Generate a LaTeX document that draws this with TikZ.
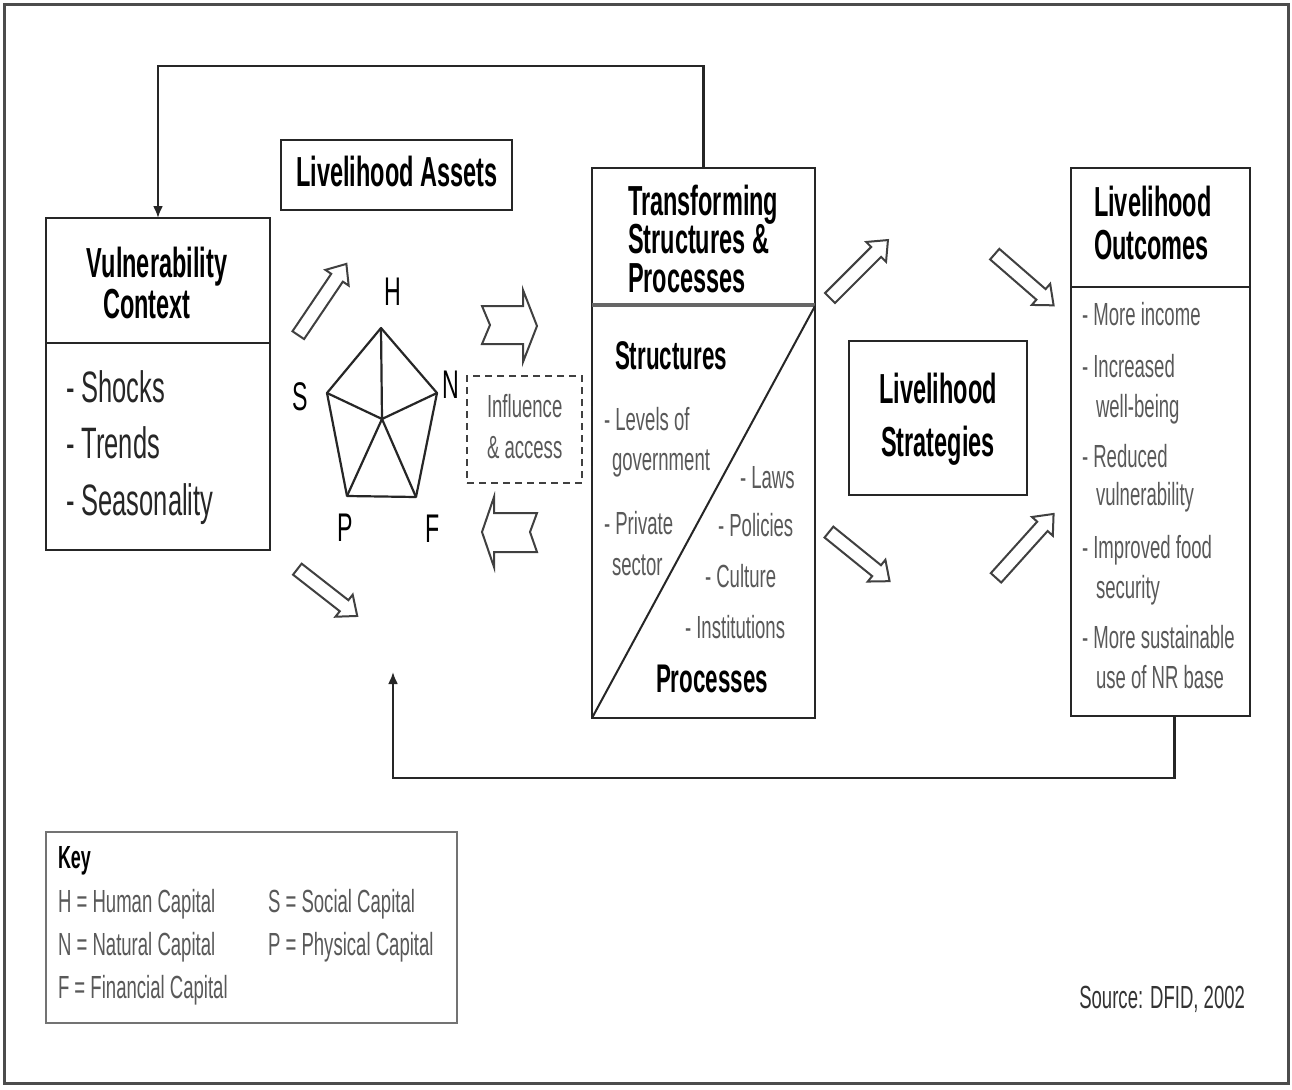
\documentclass[tikz,border=0pt]{standalone}
\usepackage{fontspec}
\setmainfont{Liberation Sans}[FakeStretch=0.58]
\newfontfamily\tfont{Liberation Sans}[FakeStretch=0.56]
\usetikzlibrary{shapes.arrows,calc,arrows.meta}
\tikzset{
  every node/.style={inner sep=0pt, outer sep=0pt},
  box/.style={draw=black!85, line width=2.6pt, fill=white, inner sep=0pt},
  title/.style={font=\tfont\bfseries\fontsize{42}{44}\selectfont, text=black},
  subtitle/.style={font=\tfont\bfseries\fontsize{40}{42}\selectfont, text=black},
  big/.style={font=\fontsize{44}{48}\selectfont, text=black!85},
  small/.style={font=\fontsize{32}{36}\selectfont, text=black!65},
  letter/.style={font=\fontsize{40}{42}\selectfont, text=black},
  conn/.style={draw=black!85, line width=2.2pt},
  pent/.style={draw=black!85, line width=2.2pt, line join=round},
  darrow/.style={single arrow, draw=black!75, line width=2pt, fill=white,
    inner xsep=0pt, inner ysep=6pt, single arrow head extend=7pt, single arrow tip angle=80},
  harrow/.style={draw=black!75, line width=2pt, fill=white, line join=miter}
}
\begin{document}
\begin{tikzpicture}[x=1pt,y=-1pt]
\useasboundingbox (0,0) rectangle (1292,1089);
\fill[white] (0,0) rectangle (1292,1089);
\draw[black!70, line width=3pt] (4,5) rectangle (1288,1083);

% boxes
\node[box, minimum width=224pt, minimum height=332pt] (vuln) at (158,384) {};
\node[box, minimum width=231pt, minimum height=70pt] (assets) at (396.5,175) {};
\node[box, minimum width=223pt, minimum height=550pt] (trans) at (703.5,443) {};
\node[box, minimum width=178pt, minimum height=154pt] (strat) at (938,418) {};
\node[box, minimum width=179pt, minimum height=548pt] (outc) at (1160.5,442) {};
\node[draw=black!75, dashed, dash pattern=on 7pt off 5pt, line width=2.4pt, minimum width=115pt, minimum height=107pt] (infl) at (524.5,429.5) {};
\node[draw=black!55, line width=2.6pt, minimum width=411pt, minimum height=191pt] (key) at (251.5,927.5) {};

% dividers
\draw[black!85, line width=2.6pt] (vuln.west |- 0,343) -- (vuln.east |- 0,343);
\draw[black!60, line width=3.5pt] (trans.west |- 0,305) -- (trans.east |- 0,305);
\draw[black!85, line width=2.6pt] (outc.west |- 0,287) -- (outc.east |- 0,287);
\draw[black!85, line width=2pt] (trans.east |- 0,306) -- (trans.south west);

% feedback connectors
\draw[conn, -{Latex[length=12pt,width=10pt]}] (trans.north) -- (trans.north |- 0,66) -| (vuln.north);
\coordinate (assetsin) at (393,672);
\draw[conn, -{Latex[length=12pt,width=10pt]}] ($(outc.south)+(14,0)$) -- ++(0,62) -| (assetsin);

% pentagon
\coordinate (pH) at (381,328);
\coordinate (pS) at (327,393);
\coordinate (pN) at (437,393);
\coordinate (pP) at (347,496);
\coordinate (pF) at (416,497);
\coordinate (pC) at (382,419);
\draw[pent] (pH) -- (pN) -- (pF) -- (pP) -- (pS) -- cycle;
\draw[pent] (pH) -- (pC) (pS) -- (pC) (pN) -- (pC) (pC) -- (pP) (pC) -- (pF);
\node[letter, anchor=base] (lH) at (393,305) {H};
\node[letter, anchor=base] (lS) at (300,410) {S};
\node[letter, anchor=base] (lN) at (451,398) {N};
\node[letter, anchor=base] (lP) at (345,541) {P};
\node[letter, anchor=base] (lF) at (433,542) {F};

% horizontal block arrows
\draw[harrow] (482,306) -- (523,306) -- (523,290) -- (537,326) -- (523,362) -- (523,344) -- (482,344) -- (490,325) -- cycle;
\draw[harrow] (537,513) -- (494,513) -- (494,497) -- (482,532) -- (494,567) -- (494,552) -- (537,552) -- (530,532) -- cycle;

% diagonal block arrows
\node[darrow, minimum height=86pt, rotate=56] (a1) at (320,303) {};
\node[darrow, minimum height=76pt, rotate=-38] (a2) at (324,590) {};
\node[darrow, minimum height=82pt, rotate=45] (a3) at (856,272) {};
\node[darrow, minimum height=78pt, rotate=-39] (a4) at (856,554) {};
\node[darrow, minimum height=78pt, rotate=-41] (a5) at (1021,277) {};
\node[darrow, minimum height=86pt, rotate=48] (a6) at (1022,549) {};

% vulnerability text
\node[title, anchor=base] (vt1) at (157,277) {Vulnerability};
\node[title, anchor=base] (vt2) at (147,318) {Context};
\node[big, anchor=base west] (vi1) at (66,402) {- Shocks};
\node[big, anchor=base west] (vi2) at (66,458) {- Trends};
\node[big, anchor=base west] (vi3) at (66,515) {- Seasonality};

% assets
\node[title, anchor=base] (at) at (397,186) {Livelihood Assets};
\node[small, anchor=base west] (if1) at (487,417) {Influence};
\node[small, anchor=base west] (if2) at (487,458) {\& access};

% transforming
\node[title, anchor=base west] (tt1) at (628,215) {Transforming};
\node[title, anchor=base west] (tt2) at (628,253) {Structures \&};
\node[title, anchor=base west] (tt3) at (628,292) {Processes};
\node[subtitle, anchor=base west] (ts) at (615,369) {Structures};
\node[subtitle, anchor=base west] (tp) at (656,692) {Processes};
\node[small, anchor=base west] (s1) at (604,430) {- Levels of};
\node[small, anchor=base west] (s2) at (612,470) {government};
\node[small, anchor=base west] (s3) at (604,534) {- Private};
\node[small, anchor=base west] (s4) at (612,575) {sector};
\node[small, anchor=base west] (p1) at (740,488) {- Laws};
\node[small, anchor=base west] (p2) at (718,536) {- Policies};
\node[small, anchor=base west] (p3) at (705,587) {- Culture};
\node[small, anchor=base west] (p4) at (685,638) {- Institutions};

% strategies
\node[title, anchor=base] (st1) at (938,403) {Livelihood};
\node[title, anchor=base] (st2) at (938,456) {Strategies};

% outcomes
\node[title, anchor=base west] (ot1) at (1094,216) {Livelihood};
\node[title, anchor=base west] (ot2) at (1094,259) {Outcomes};
\node[small, anchor=base west] (o1) at (1082,325) {- More income};
\node[small, anchor=base west] (o2) at (1082,377) {- Increased};
\node[small, anchor=base west] (o3) at (1096,417) {well-being};
\node[small, anchor=base west] (o4) at (1082,467) {- Reduced};
\node[small, anchor=base west] (o5) at (1096,505) {vulnerability};
\node[small, anchor=base west] (o6) at (1082,558) {- Improved food};
\node[small, anchor=base west] (o7) at (1096,598) {security};
\node[small, anchor=base west] (o8) at (1082,648) {- More sustainable};
\node[small, anchor=base west] (o9) at (1096,688) {use of NR base};

% key
\node[font=\tfont\bfseries\fontsize{32}{34}\selectfont, anchor=base west] (kt) at (58,868) {Key};
\node[small, anchor=base west] (k1) at (58,912) {H = Human Capital};
\node[small, anchor=base west] (k2) at (58,955) {N = Natural Capital};
\node[small, anchor=base west] (k3) at (58,998) {F = Financial Capital};
\node[small, anchor=base west] (k4) at (268,912) {S = Social Capital};
\node[small, anchor=base west] (k5) at (268,955) {P = Physical Capital};

% source
\node[small, text=black!80, anchor=base east] (src) at (1245,1008) {Source: DFID, 2002};
\end{tikzpicture}
\end{document}
